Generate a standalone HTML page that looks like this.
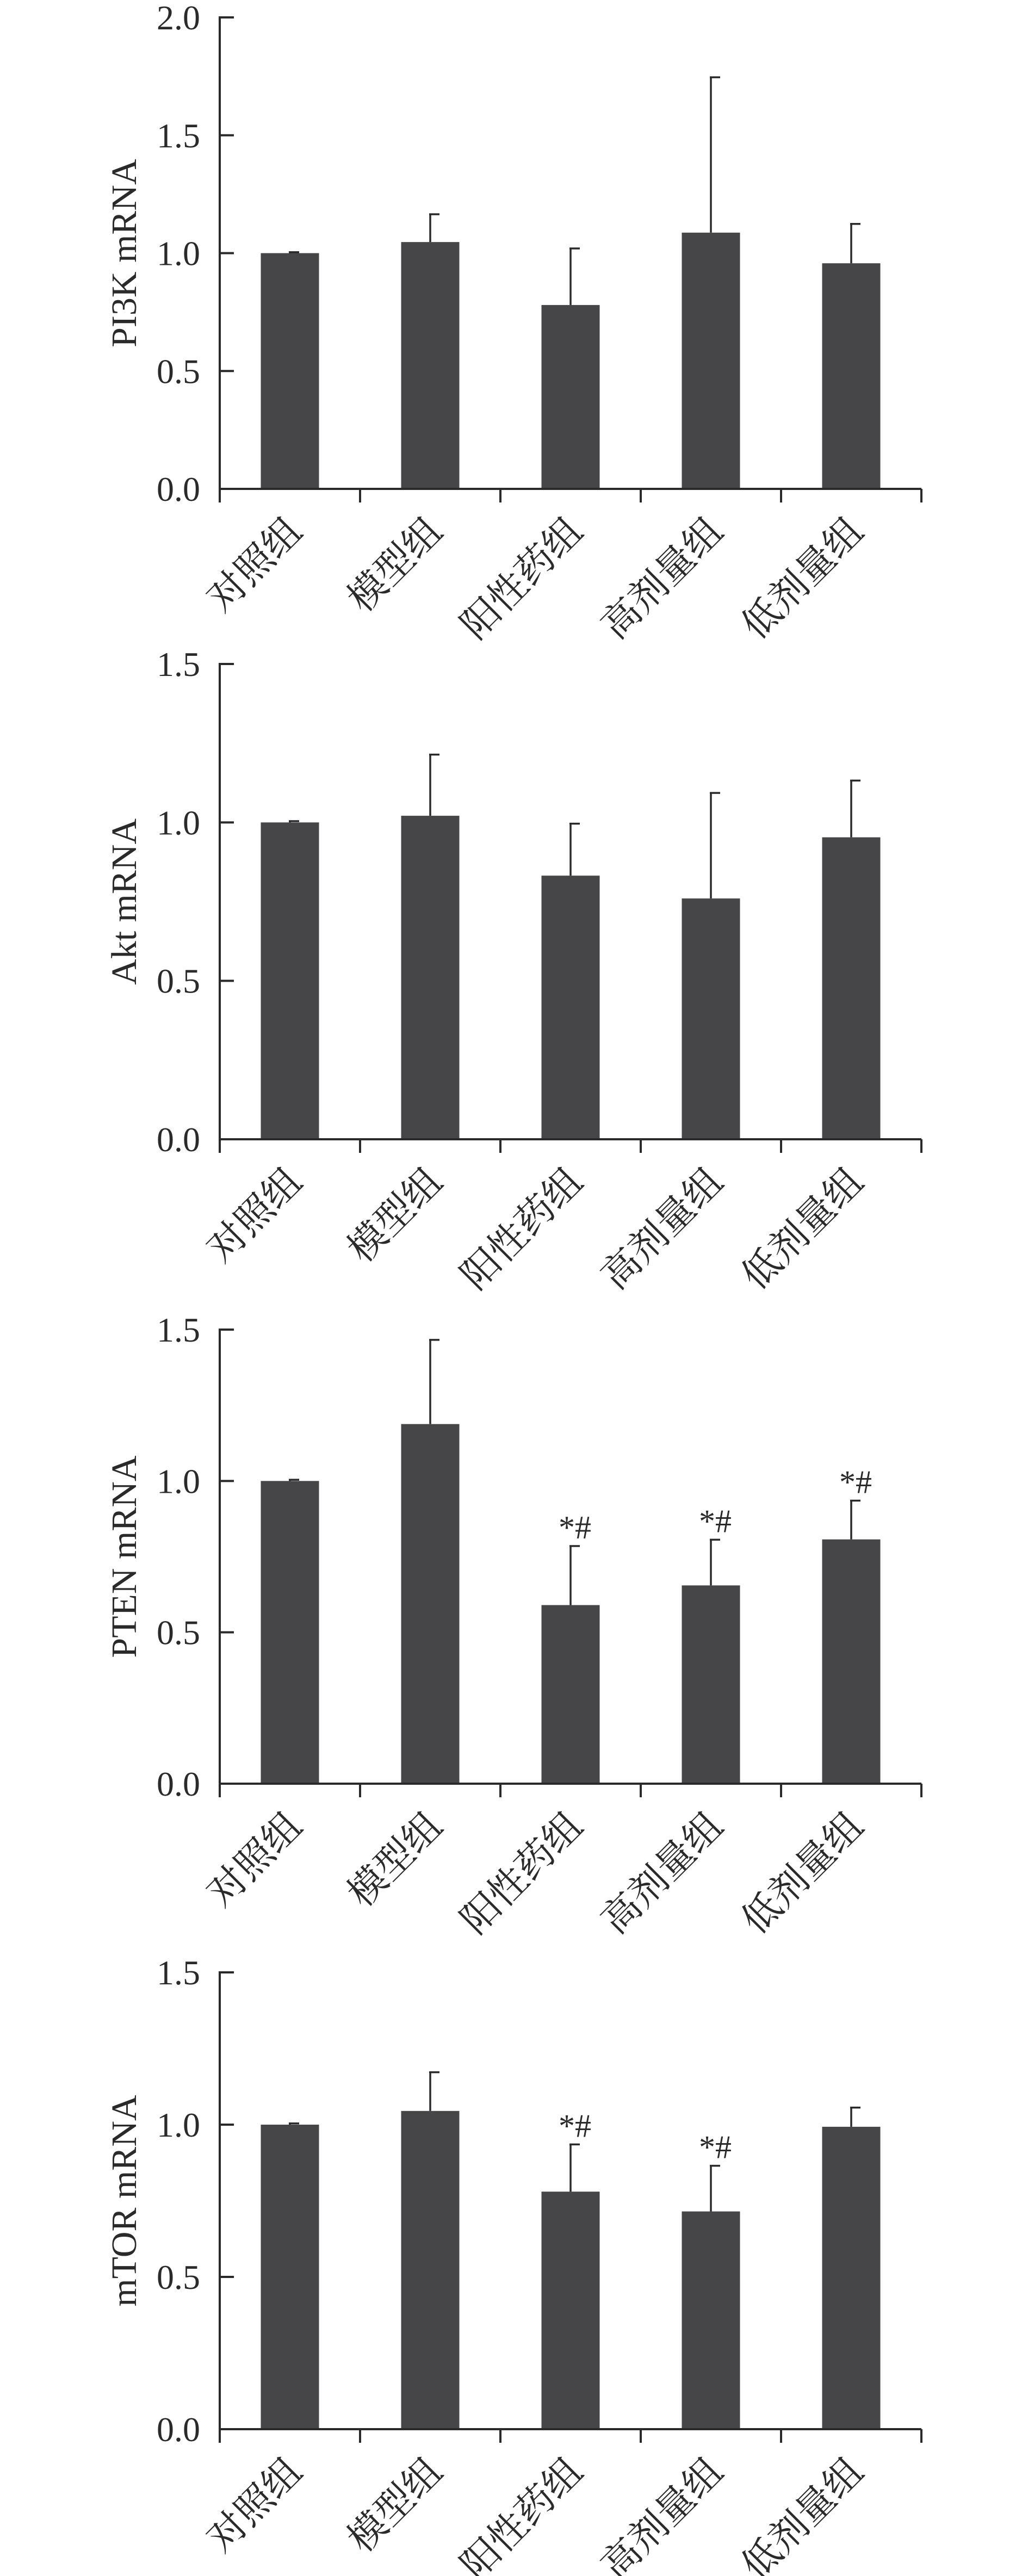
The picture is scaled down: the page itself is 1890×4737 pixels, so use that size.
<!DOCTYPE html>
<html><head><meta charset="utf-8">
<style>
html,body{margin:0;padding:0;background:#fff;}
svg{display:block;}
text{font-family:"Liberation Serif","Noto Serif CJK SC","Noto Sans CJK SC",serif;fill:#2a2a2a;}
</style></head>
<body>
<svg id="fig" width="1890" height="4737" viewBox="0 0 1890 4737" xmlns="http://www.w3.org/2000/svg"></svg>
<script>
const categories = ["对照组","模型组","阳性药组","高剂量组","低剂量组"];
const pi3kValues = [1.0, 1.047, 0.78, 1.087, 0.957];
const pi3kErrors = [0.004, 0.118, 0.24, 0.659, 0.167];
const pi3kMarks = ["", "", "", "", ""];
const aktValues = [1.0, 1.021, 0.832, 0.76, 0.953];
const aktErrors = [0.004, 0.193, 0.164, 0.333, 0.179];
const aktMarks = ["", "", "", "", ""];
const ptenValues = [1.0, 1.188, 0.59, 0.655, 0.807];
const ptenErrors = [0.004, 0.278, 0.195, 0.151, 0.128];
const ptenMarks = ["", "", "*#", "*#", "*#"];
const mtorValues = [1.0, 1.045, 0.78, 0.715, 0.993];
const mtorErrors = [0.004, 0.127, 0.155, 0.15, 0.063];
const mtorMarks = ["", "", "*#", "*#", ""];
const ticksA = ["0.0","0.5","1.0","1.5","2.0"];
const ticksB = ["0.0","0.5","1.0","1.5"];

const NS = "http://www.w3.org/2000/svg";
const svg = document.getElementById("fig");
function mk(tag, attrs, parent){
  const e = document.createElementNS(NS, tag);
  for (const k in attrs) e.setAttribute(k, attrs[k]);
  parent.appendChild(e);
  return e;
}
const AX = 404, AXEND = 1694, STEP = 258, BARW = 107;

function drawChart(key, title, top, base, ymax, ticks, values, errors, marks){
  const g = mk("g", {}, svg);
  
  
  const y = v => base - (v / ymax) * (base - top);
  const cx = i => AX + STEP / 2 + STEP * i;
  // bars
  values.forEach((v, i) => {
    const r = mk("rect", {x: cx(i) - BARW/2, y: y(v), width: BARW, height: base - y(v), fill: "#464648"}, g);
    
    
    const ey = y(v + errors[i]);
    const el = mk("path", {d: `M${cx(i)} ${y(v)} V${ey} M${cx(i)-2} ${ey} H${cx(i)+17}`, stroke: "#2a2a2a", "stroke-width": 3.5, fill: "none"}, g);
    
    
    if (marks[i]) {
      const t = mk("text", {x: cx(i) + 8, y: ey - 14, "font-size": 60, "text-anchor": "middle"}, g);
      t.textContent = marks[i];
      
      
    }
  });
  // axes
  const axes = mk("path", {d: `M${AX} ${top-2} V${base+25} M${AX} ${base} H${AXEND}`, stroke: "#2a2a2a", "stroke-width": 4, fill: "none"}, g);
  
  
  for (let i = 0; i <= 5; i++) {
    const tx = AX + STEP * i;
    const tk = mk("line", {x1: tx, y1: base, x2: tx, y2: base + 25, stroke: "#2a2a2a", "stroke-width": 4}, g);
    
    
  }
  ticks.forEach(lbl => {
    const v = parseFloat(lbl), ty = y(v);
    const tk = mk("line", {x1: AX, y1: ty, x2: AX + 26, y2: ty, stroke: "#2a2a2a", "stroke-width": 4}, g);
    
    
    const t = mk("text", {x: 368, y: ty + 22, "font-size": 64, "text-anchor": "end"}, g);
    t.textContent = lbl;
    
    
  });
  categories.forEach((c, i) => {
    const px = cx(i) + 26, py = base + 82;
    const t = mk("text", {x: px, y: py, "font-size": 70, "text-anchor": "end", transform: `rotate(-45 ${px} ${py})`,
      style: 'font-family:"Noto Serif CJK SC","Noto Sans CJK SC",serif'}, g);
    t.textContent = c;
    
    
  });
  const mid = (top + base) / 2;
  const yt = mk("text", {x: 250, y: mid, "font-size": 66, "text-anchor": "middle", transform: `rotate(-90 250 ${mid})`}, g);
  yt.textContent = title;
  
  
}

drawChart("pi3k", "PI3K mRNA", 32, 899, 2.0, ticksA, pi3kValues, pi3kErrors, pi3kMarks);
drawChart("akt", "Akt mRNA", 1221, 2095, 1.5, ticksB, aktValues, aktErrors, aktMarks);
drawChart("pten", "PTEN mRNA", 2445, 3280, 1.5, ticksB, ptenValues, ptenErrors, ptenMarks);
drawChart("mtor", "mTOR mRNA", 3627, 4467, 1.5, ticksB, mtorValues, mtorErrors, mtorMarks);
</script>
</body></html>
